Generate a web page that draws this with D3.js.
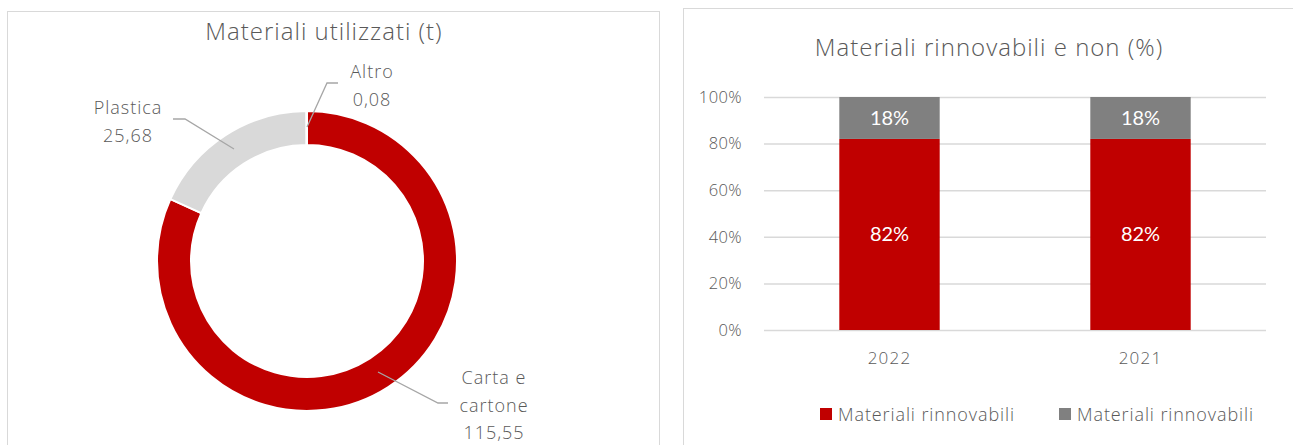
<!DOCTYPE html>
<html>
<head>
<meta charset="utf-8">
<script src="https://cdn.jsdelivr.net/npm/d3@7"></script>
<style>
  body { margin: 0; background: #fff; }
  text { font-family: "Open Sans", "Noto Sans", sans-serif; font-weight: 300; }
</style>
</head>
<body>
<script>
// donut data
let donutNames = ["Carta e cartone", "Plastica", "Altro"];
let donutLabels = [["Carta e", "cartone"], ["Plastica"], ["Altro"]];
let donutValues = [115.55, 25.68, 0.08];
let donutColors = ["#C00000", "#D9D9D9", "#D9D9D9"];

// stacked bar data
let years = ["2022", "2021"];
let renewable = [82, 82];
let nonRenewable = [18, 18];
let seriesNames = ["Materiali rinnovabili", "Materiali rinnovabili"];
let seriesColors = ["#C00000", "#808080"];
let yTicks = [0, 20, 40, 60, 80, 100];

let width = 1293, height = 445;
let svg = d3.select("body").append("svg")
    .attr("width", width)
    .attr("height", height);

let textColor = "#595959";

// panel borders
svg.append("rect").attr("x", 7.5).attr("y", 11.5).attr("width", 652).attr("height", 460)
    .attr("fill", "none").attr("stroke", "#D9D9D9");
svg.append("rect").attr("x", 683.5).attr("y", 8.5).attr("width", 640).attr("height", 460)
    .attr("fill", "none").attr("stroke", "#D9D9D9");

//----------------------------- donut
let cx = 307, cy = 261;
let pie = d3.pie().sort(null).value(d => d);
let arcs = pie(donutValues);
let arc = d3.arc().innerRadius(116).outerRadius(150);

svg.append("text")
    .attr("x", 324).attr("y", 40)
    .attr("text-anchor", "middle")
    .style("font-size", "24px")
    .style("letter-spacing", "1px")
    .attr("fill", textColor)
    .text("Materiali utilizzati (t)");

let dg = svg.append("g").attr("transform", `translate(${cx},${cy})`);
dg.selectAll("path")
    .data(arcs)
    .enter().append("path")
    .attr("d", arc)
    .attr("fill", (d, i) => donutColors[i])
    .attr("stroke", "#fff")
    .attr("stroke-width", 2);

// leader lines + labels
let labelPos = [
    {lx: 494, ly: 384, line: [[378, 372], [438, 403], [448, 403]]},
    {lx: 128, ly: 114, line: [[234, 149], [185, 119], [173, 119]]},
    {lx: 372, ly: 78, line: [[307, 127], [327, 83], [338, 83]]}
];

let fmt = v => d3.format(".2f")(v).replace(".", ",");

arcs.forEach((d, i) => {
    let p = labelPos[i];
    svg.append("path")
        .attr("d", d3.line()(p.line))
        .attr("fill", "none")
        .attr("stroke", "#A6A6A6")
        .attr("stroke-width", 1.3);
    let lines = donutLabels[i].concat([fmt(donutValues[i])]);
    let t = svg.append("text")
        .attr("text-anchor", "middle")
        .style("font-size", "18px")
        .style("letter-spacing", "1px")
        .attr("fill", textColor);
    lines.forEach((s, j) => {
        t.append("tspan").attr("x", p.lx).attr("y", p.ly + j * 27.5).text(s);
    });
});

//----------------------------- stacked bars
let x = d3.scaleBand().domain(years).range([764, 1266]).paddingInner(0.6).paddingOuter(0.3);
let y = d3.scaleLinear().domain([0, 100]).range([330, 97]);

svg.append("text")
    .attr("x", 989).attr("y", 56)
    .attr("text-anchor", "middle")
    .style("font-size", "24px")
    .style("letter-spacing", "1px")
    .attr("fill", textColor)
    .text("Materiali rinnovabili e non (%)");

let yAxis = svg.append("g")
    .attr("transform", "translate(764,0)")
    .call(d3.axisLeft(y).tickValues(yTicks).tickSize(-502).tickFormat(d => d + "%"));
yAxis.select(".domain").remove();
yAxis.selectAll("line").attr("stroke", "#D9D9D9").attr("stroke-width", 1.5);
yAxis.selectAll("text")
    .attr("x", -22)
    .style("font-size", "16.5px")
    .style("letter-spacing", "0.4px")
    .style("font-family", "'Open Sans', sans-serif")
    .style("font-weight", 300)
    .attr("fill", textColor);

let xAxis = svg.append("g")
    .attr("transform", "translate(0,330)")
    .call(d3.axisBottom(x).tickSize(0));
xAxis.select(".domain").remove();
xAxis.selectAll("text")
    .attr("dy", "1.85em")
    .style("font-size", "17px")
    .style("letter-spacing", "1.2px")
    .style("font-family", "'Open Sans', sans-serif")
    .style("font-weight", 300)
    .attr("fill", textColor);

let stackData = years.map((yr, i) => ({year: yr, a: renewable[i], b: nonRenewable[i]}));
let stack = d3.stack().keys(["a", "b"])(stackData);

stack.forEach((s, k) => {
    svg.append("g").selectAll("rect")
        .data(s)
        .enter().append("rect")
        .attr("x", d => x(d.data.year))
        .attr("width", x.bandwidth())
        .attr("y", d => y(d[1]))
        .attr("height", d => y(d[0]) - y(d[1]))
        .attr("fill", seriesColors[k]);
    svg.append("g").selectAll("text")
        .data(s)
        .enter().append("text")
        .attr("x", d => x(d.data.year) + x.bandwidth() / 2)
        .attr("y", d => (y(d[0]) + y(d[1])) / 2)
        .attr("dy", "0.35em")
        .attr("text-anchor", "middle")
        .style("font-family", "Lato, sans-serif")
        .style("font-weight", 400)
        .style("font-size", "20px")
        .attr("fill", "#fff")
        .text(d => Math.round(d[1] - d[0]) + "%");
});

// legend
let legX = [820, 1059];
seriesNames.forEach((n, i) => {
    svg.append("rect")
        .attr("x", legX[i]).attr("y", 408)
        .attr("width", 12).attr("height", 12)
        .attr("fill", seriesColors[i]);
    svg.append("text")
        .attr("x", legX[i] + 18).attr("y", 421)
        .style("font-size", "18px")
        .style("letter-spacing", "0.9px")
        .attr("fill", textColor)
        .text(n);
});
</script>
</body>
</html>
